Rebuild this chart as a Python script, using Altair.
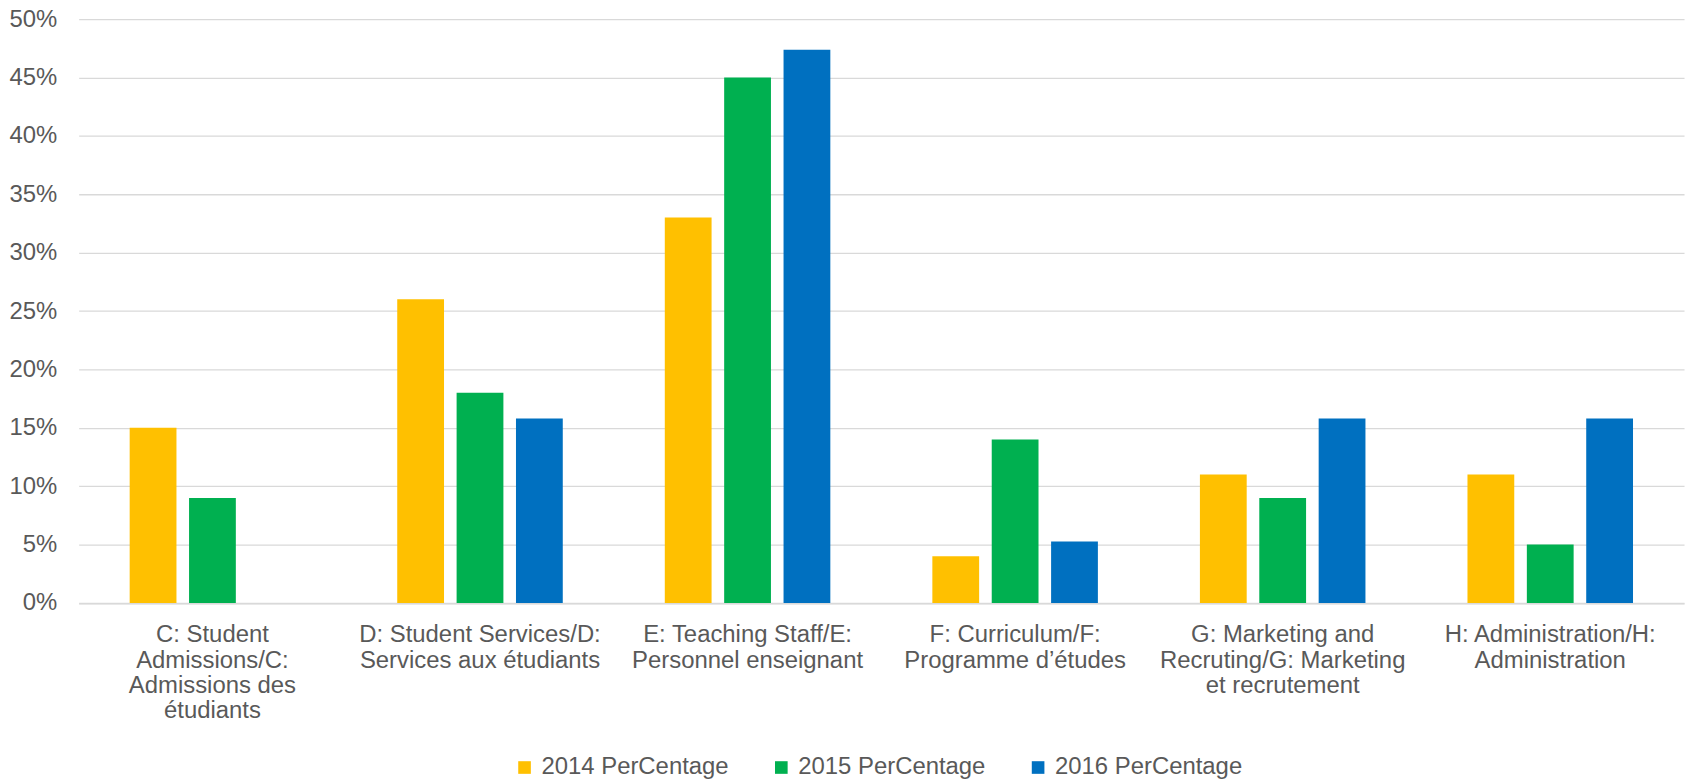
import altair as alt
import pandas as pd

categories = [
    "C: Student\nAdmissions/C:\nAdmissions des\nétudiants",
    "D: Student Services/D:\nServices aux étudiants",
    "E: Teaching Staff/E:\nPersonnel enseignant",
    "F: Curriculum/F:\nProgramme d’études",
    "G: Marketing and\nRecruting/G: Marketing\net recrutement",
    "H: Administration/H:\nAdministration",
]
series = ["2014 PerCentage", "2015 PerCentage", "2016 PerCentage"]
v2014 = [15, 26, 33, 4, 11, 11]
v2015 = [9, 18, 45, 14, 9, 5]
v2016 = [0, 15.79, 47.37, 5.26, 15.79, 15.79]
colors = ["#FFC000", "#00B050", "#0070C0"]
y_ticks = [0, 5, 10, 15, 20, 25, 30, 35, 40, 45, 50]

rows = []
for s, vals in zip(series, [v2014, v2015, v2016]):
    for c, v in zip(categories, vals):
        rows.append({"category": c, "series": s, "value": v})
df = pd.DataFrame(rows)

FONT = "Liberation Sans"
GRAY = "#595959"

chart = alt.Chart(df).mark_bar().encode(
    x=alt.X(
        "category:N",
        sort=categories,
        title=None,
        scale=alt.Scale(paddingInner=0.3813, paddingOuter=0.19065),
        axis=alt.Axis(
            labelAngle=0,
            labelExpr="split(datum.label, '\\n')",
            labelFont=FONT,
            labelFontSize=24,
            labelColor=GRAY,
            labelLineHeight=25.5,
            labelPadding=20,
            labelLimit=0,
            ticks=False,
            tickSize=0,
            domainColor="#d9d9d9",
            domainWidth=1.3,
            grid=False,
        ),
    ),
    xOffset=alt.XOffset(
        "series:N", sort=series, scale=alt.Scale(paddingInner=0.212, paddingOuter=0)
    ),
    y=alt.Y(
        "value:Q",
        title=None,
        scale=alt.Scale(domain=[0, 50], nice=False),
        axis=alt.Axis(
            values=y_ticks,
            labelExpr="datum.value + '%'",
            labelFont=FONT,
            labelFontSize=24,
            labelColor=GRAY,
            labelPadding=22,
            ticks=False,
            tickSize=0,
            domain=False,
            gridColor="#d9d9d9",
            gridWidth=1.3,
        ),
    ),
    color=alt.Color(
        "series:N",
        sort=series,
        scale=alt.Scale(domain=series, range=colors),
        legend=alt.Legend(
            title=None,
            orient="none",
            legendX=436,
            legendY=740,
            direction="horizontal",
            columns=3,
            symbolType="square",
            symbolSize=161,
            symbolStrokeWidth=0,
            labelFont=FONT,
            labelFontSize=24,
            labelColor=GRAY,
            labelOffset=5,
            labelLimit=0,
            columnPadding=40,
            padding=0,
        ),
    ),
).properties(
    width=1613,
    height=586.7,
    autosize=alt.AutoSizeParams(type="none"),
    padding={"left": 71, "top": 9.3, "right": 4, "bottom": 175},
).configure_view(stroke=None)

chart.save("out.html", embed_options={"renderer": "svg", "actions": False})
